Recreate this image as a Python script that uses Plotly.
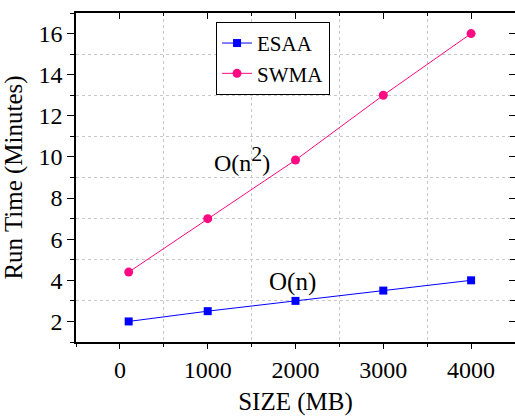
import plotly.graph_objects as go

sizes = [100, 1000, 2000, 3000, 4000]
esaa = [2.0, 2.5, 3.0, 3.5, 4.0]
swma = [4.4, 7.0, 9.85, 13.0, 16.0]
x_ticks = [0, 1000, 2000, 3000, 4000]
y_ticks = [2, 4, 6, 8, 10, 12, 14, 16]

FONT = "Liberation Serif, Times New Roman, serif"
BLUE = "#0000ff"
PINK = "#ff0a82"

fig = go.Figure()
fig.add_trace(go.Scatter(x=sizes, y=esaa, name="ESAA", mode="lines+markers",
                         line=dict(color=BLUE, width=1),
                         marker=dict(symbol="square", size=8, color=BLUE)))
fig.add_trace(go.Scatter(x=sizes, y=swma, name="SWMA", mode="lines+markers",
                         line=dict(color=PINK, width=1),
                         marker=dict(symbol="circle", size=9, color=PINK)))
# empty trace to activate the mirrored top/right axes
fig.add_trace(go.Scatter(x=[], y=[], xaxis="x2", yaxis="y2", showlegend=False))

axis_common = dict(showline=True, linecolor="black", linewidth=1.5, zeroline=False)
tickfont = dict(family=FONT, size=24, color="black")

fig.update_layout(
    template="none",
    width=515, height=416,
    margin=dict(l=76, r=0, t=13, b=74),
    paper_bgcolor="white", plot_bgcolor="white",
    font=dict(family=FONT, size=24, color="black"),
    showlegend=True,
    legend=dict(x=0.319, y=0.973, xanchor="left", yanchor="top",
                bordercolor="black", borderwidth=1, bgcolor="white",
                font=dict(family=FONT, size=21), itemwidth=30,
                tracegroupgap=0),
    xaxis=dict(**axis_common, range=[-500, 4500], tickvals=x_ticks,
               ticks="outside", ticklen=5, tickwidth=1.2, tickcolor="black",
               tickfont=tickfont, showgrid=False,
               minor=dict(dtick=1000, tick0=500, ticks="outside", ticklen=3,
                          tickcolor="black", showgrid=True, gridcolor="#c8c8c8",
                          griddash="dot", gridwidth=1),
               title=dict(text="SIZE (MB)", standoff=14,
                          font=dict(family=FONT, size=25))),
    yaxis=dict(**axis_common, range=[1, 17], tickvals=y_ticks,
               ticks="outside", ticklen=7, tickwidth=1.2, tickcolor="black",
               tickfont=tickfont, showgrid=False,
               minor=dict(dtick=2, tick0=1, ticks="outside", ticklen=4,
                          tickcolor="black", showgrid=True, gridcolor="#c8c8c8",
                          griddash="dot", gridwidth=1),
               title=dict(text="Run Time (Minutes)", standoff=10,
                          font=dict(family=FONT, size=25))),
    xaxis2=dict(**axis_common, overlaying="x", side="top", range=[-500, 4500],
                tickvals=x_ticks, ticks="inside", ticklen=6, tickwidth=1.2,
                tickcolor="black", showticklabels=False, showgrid=False,
                minor=dict(dtick=1000, tick0=500, ticks="inside", ticklen=3,
                           tickcolor="black", showgrid=False)),
    yaxis2=dict(**axis_common, overlaying="y", side="right", range=[1, 17],
                tickvals=y_ticks, ticks="inside", ticklen=6, tickwidth=1.2,
                tickcolor="black", showticklabels=False, showgrid=False,
                minor=dict(dtick=2, tick0=1, ticks="inside", ticklen=5,
                           tickcolor="black", showgrid=False)),
)

fig.add_annotation(x=1390, y=9.9, xref="x", yref="y",
                   text="O(n<sup><span style='font-size:22px'>2</span></sup>)",
                   showarrow=False, font=dict(family=FONT, size=24))
fig.add_annotation(x=1966, y=3.9, xref="x", yref="y", text="O(n)",
                   showarrow=False, font=dict(family=FONT, size=25))

fig.write_html("out.html", config={"displayModeBar": False},
               post_script="document.body.style.margin='0';"
                           "document.body.style.overflow='hidden';")
